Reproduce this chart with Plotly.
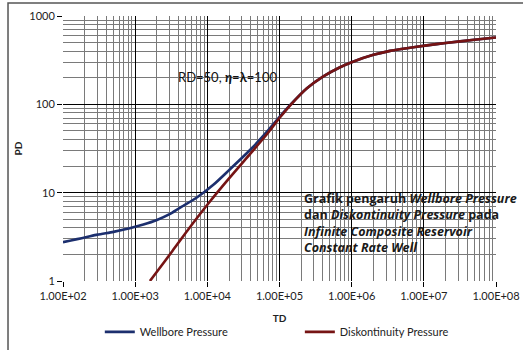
import plotly.graph_objects as go

# Dimensionless time and pressure (log-log)
td_wellbore = [1e2, 2e2, 3e2, 5e2, 8.4e2, 1.3e3, 2e3, 3e3, 4.1e3, 7e3, 1.2e4, 2e4, 4e4, 7e4, 1e5,
               1.45e5, 2.4e5, 4e5, 6.9e5, 1e6, 2e6, 3.4e6, 5.8e6, 1.1e7, 2e7, 5e7, 1e8]
pd_wellbore = [2.75, 3.1, 3.35, 3.6, 3.95, 4.35, 4.9, 5.7, 6.7, 8.7, 12.2, 18, 31, 51, 72,
               101, 152, 206, 263, 300, 363, 403, 432, 465, 495, 538, 570]

td_disk = [1.6e3, 2e3, 3.3e3, 5e3, 1e4, 2e4, 4e4, 7e4, 1e5,
           1.45e5, 2.4e5, 4e5, 6.9e5, 1e6, 2e6, 3.4e6, 5.8e6, 1.1e7, 2e7, 5e7, 1e8]
pd_disk = [1.0, 1.27, 2.2, 3.5, 7.3, 14.5, 28, 48, 70,
           100, 152, 206, 263, 300, 363, 403, 432, 465, 495, 538, 570]

x_tickvals = [1e2, 1e3, 1e4, 1e5, 1e6, 1e7, 1e8]
x_ticktext = ["1.00E+02", "1.00E+03", "1.00E+04", "1.00E+05", "1.00E+06", "1.00E+07", "1.00E+08"]
y_tickvals = [1, 10, 100, 1000]
y_ticktext = ["1", "10", "100", "1000"]

FONT = "Lato"
BLUE = "#1c2f6e"
RED = "#761414"

fig = go.Figure()
fig.add_trace(go.Scatter(x=td_wellbore, y=pd_wellbore, mode="lines", name="Wellbore Pressure",
                         legend="legend",
                         line=dict(color=BLUE, width=2.6, shape="spline", smoothing=0.7)))
fig.add_trace(go.Scatter(x=td_disk, y=pd_disk, mode="lines", name="Diskontinuity Pressure",
                         legend="legend2",
                         line=dict(color=RED, width=2.6, shape="spline", smoothing=0.7)))

axis_common = dict(
    type="log", showgrid=True, gridcolor="#000000", gridwidth=1,
    ticks="outside", ticklen=5, tickcolor="#000000", tickwidth=1,
    showline=False, zeroline=False,
    tickfont=dict(family=FONT, size=11, color="#222222"),
    minor=dict(dtick="D1", showgrid=True, gridcolor="#7a7a7a", gridwidth=1, ticks=""),
)

fig.update_xaxes(range=[2, 8], tickvals=x_tickvals, ticktext=x_ticktext,
                 title=dict(text="<b>TD</b>", font=dict(family=FONT, size=10, color="#222222"), standoff=13),
                 **axis_common)
fig.update_yaxes(range=[0, 3], tickvals=y_tickvals, ticktext=y_ticktext,
                 title=dict(text="<b>PD</b>", font=dict(family=FONT, size=10, color="#222222"), standoff=4),
                 **axis_common)

fig.add_annotation(x=0.262, y=0.77, xref="paper", yref="paper", xanchor="left", yanchor="middle",
                   text="RD=50, <b><i>η</i></b>=<b>λ</b>=100", showarrow=False,
                   font=dict(family=FONT, size=13, color="#111111"))

fig.add_annotation(x=0.552, y=0.352, xref="paper", yref="paper", xanchor="left", yanchor="top",
                   align="left", showarrow=False,
                   text=("<b>Grafik pengaruh <i>Wellbore Pressure</i></b><br>"
                         "<b>dan <i>Diskontinuity Pressure</i> pada</b><br>"
                         "<b><i>Infinite Composite Reservoir</i></b><br>"
                         "<b><i>Constant Rate Well</i></b>"),
                   font=dict(family="Open Sans", size=12.5, color="#1a1a1a"))

# chart frame
fig.add_shape(type="rect", xref="paper", yref="paper", x0=-0.127, x1=2, y0=-2, y1=1.049,
              line=dict(color="#555555", width=1.5), fillcolor="rgba(0,0,0,0)", layer="below")

legend_style = dict(orientation="h", xanchor="left", yanchor="middle", y=-0.192,
                    font=dict(family=FONT, size=11, color="#222222"), bgcolor="rgba(0,0,0,0)")

fig.update_layout(
    width=523, height=350,
    margin=dict(l=63, r=27, t=16, b=69, autoexpand=False),
    paper_bgcolor="white", plot_bgcolor="white",
    showlegend=True,
    legend=dict(x=0.085, **legend_style),
    legend2=dict(x=0.547, **legend_style),
)

fig.write_html("out.html")
